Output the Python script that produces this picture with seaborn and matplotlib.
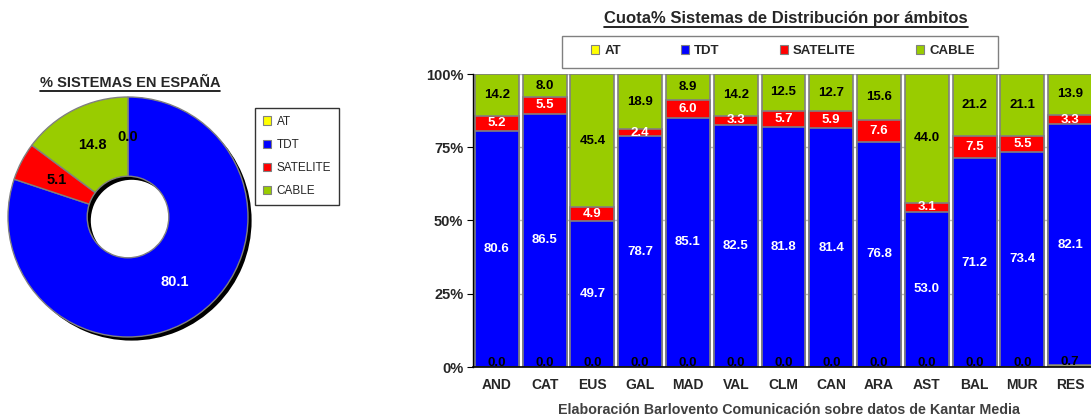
import numpy as np
import pandas as pd
import matplotlib
matplotlib.use("Agg")
import matplotlib.pyplot as plt
from matplotlib import font_manager
from matplotlib.lines import Line2D
from matplotlib.patches import Patch, Rectangle
import seaborn as sns

# Data
sistemas = ["AT", "TDT", "SATELITE", "CABLE"]
espana = [0.0, 80.1, 5.1, 14.8]

ambitos = ["AND", "CAT", "EUS", "GAL", "MAD", "VAL", "CLM", "CAN", "ARA", "AST", "BAL", "MUR", "RES"]
at_vals = [0.0, 0.0, 0.0, 0.0, 0.0, 0.0, 0.0, 0.0, 0.0, 0.0, 0.0, 0.0, 0.7]
tdt_vals = [80.6, 86.5, 49.7, 78.7, 85.1, 82.5, 81.8, 81.4, 76.8, 53.0, 71.2, 73.4, 82.1]
sat_vals = [5.2, 5.5, 4.9, 2.4, 6.0, 3.3, 5.7, 5.9, 7.6, 3.1, 7.5, 5.5, 3.3]
cable_vals = [14.2, 8.0, 45.4, 18.9, 8.9, 14.2, 12.5, 12.7, 15.6, 44.0, 21.2, 21.1, 13.9]

colores = ["#FFFF00", "#0000FF", "#FF0000", "#99CC00"]
edge = "#808080"

#Setting styles
sns.set_style("white")
available = set(f.name for f in font_manager.fontManager.ttflist)
narrow = "Liberation Sans Narrow" if "Liberation Sans Narrow" in available else "Liberation Sans"
plt.rcParams["font.family"] = ["Liberation Sans", "DejaVu Sans"]

fig = plt.figure(figsize=(10.91, 4.19), dpi=100)

# ---------- Donut ----------
ax_pie = fig.add_axes([2 / 1091, 76 / 419, 252 / 1091, 252 / 419])
# shadow ring
ax_pie.pie([1], colors=["black"], radius=1.0, center=(0.03, -0.03),
           wedgeprops=dict(width=0.66, linewidth=0))
wedges, texts, autotexts = ax_pie.pie(
    espana, colors=colores, startangle=90, counterclock=False,
    autopct="%.1f", pctdistance=0.67,
    wedgeprops=dict(width=0.66, edgecolor=edge, linewidth=1.0),
    textprops=dict(fontsize=10.5, fontweight="bold", color="black"))
autotexts[1].set_color("white")
ax_pie.set_xlim(-1.05, 1.05)
ax_pie.set_ylim(-1.05, 1.05)
ax_pie.set_aspect("equal")
ax_pie.axis("off")

pie_title = fig.text(130 / 1091, 1 - 83 / 419, "% SISTEMAS EN ESPAÑA", ha="center", va="center",
                     fontsize=10.5, fontweight="bold")

pie_handles = [Patch(facecolor=c, edgecolor=edge, linewidth=0.8) for c in colores]
fig.legend(pie_handles, sistemas, loc="upper left",
           bbox_to_anchor=(255 / 1091, 1 - 108 / 419), fontsize=8.5,
           frameon=True, fancybox=False, edgecolor="black", handlelength=0.7,
           handleheight=0.7, handletextpad=0.5, labelspacing=0.95, borderpad=0.65,
           borderaxespad=0)

# ---------- Stacked bars ----------
ax = fig.add_axes([473 / 1091, 1 - 367 / 419, 621 / 1091, 293 / 419])

df = pd.DataFrame({"ambito": ambitos, "AT": at_vals, "TDT": tdt_vals,
                   "SATELITE": sat_vals, "CABLE": cable_vals})
total = df[sistemas].sum(axis=1)
norm = df[sistemas].div(total, axis=0) * 100
cum = norm.cumsum(axis=1)

# draw from the top layer down so lower layers cover them
for s, c in zip(reversed(sistemas), reversed(colores)):
    sns.barplot(x=df["ambito"], y=cum[s], color=c, saturation=1, width=0.92,
                edgecolor=edge, linewidth=1.2, ax=ax, zorder=2)

label_colors = {"AT": "black", "TDT": "white", "SATELITE": "white", "CABLE": "black"}
for i in range(len(ambitos)):
    for s in sistemas:
        mid = cum.loc[i, s] - norm.loc[i, s] / 2
        dy = 3 if s == "AT" else 0
        ax.annotate(f"{df.loc[i, s]:.1f}", (i, mid), xytext=(0, dy), textcoords="offset points",
                    ha="center", va="center", fontsize=9.5, fontweight="bold",
                    color=label_colors[s], zorder=5, annotation_clip=False)

ax.set_xlim(-0.5, len(ambitos) - 0.5)
ax.set_ylim(0, 100)
ax.set_yticks([0, 25, 50, 75, 100])
ax.set_yticklabels(["0%", "25%", "50%", "75%", "100%"], fontsize=10.5, fontweight="bold")
ax.set_xticks(range(len(ambitos)))
ax.set_xticklabels(ambitos, fontsize=10, fontweight="bold", family=narrow)
ax.set_xticks(np.arange(-0.5, len(ambitos), 1), minor=True)
ax.tick_params(axis="x", which="major", length=0, pad=8)
ax.tick_params(axis="x", which="minor", length=4, width=0.8, color="black", direction="out")
ax.tick_params(axis="y", length=4, width=0.8, color="black", direction="out", left=True, pad=3)
ax.set_xlabel("")
ax.set_ylabel("")
ax.yaxis.grid(True, color="#b8b8b8", linewidth=1)
ax.set_axisbelow(True)
for sp in ["top", "right"]:
    ax.spines[sp].set_visible(False)
ax.spines["left"].set_color("black")
ax.spines["bottom"].set_color("black")
ax.spines["left"].set_linewidth(1)
ax.spines["bottom"].set_linewidth(1.2)

bar_title = fig.text(786 / 1091, 1 - 18 / 419, "Cuota% Sistemas de Distribución por ámbitos",
                     ha="center", va="center", fontsize=12, fontweight="bold", family=narrow)

# legend box of the bar chart
fig.add_artist(Rectangle((562 / 1091, 1 - 68 / 419), 436 / 1091, 32 / 419,
                         transform=fig.transFigure, facecolor="white",
                         edgecolor="#808080", linewidth=1))
bar_handles = [Patch(facecolor=c, edgecolor=edge, linewidth=0.8) for c in colores]
fig.legend(bar_handles, sistemas, loc="center", ncol=4,
           bbox_to_anchor=(783 / 1091, 1 - 51 / 419),
           prop=dict(size=9.5, weight="bold"), frameon=False,
           handlelength=0.6, handleheight=0.6, handletextpad=0.4,
           columnspacing=4.55, borderpad=0, borderaxespad=0)

fig.text(789 / 1091, 1 - 410 / 419,
         "Elaboración Barlovento Comunicación sobre datos de Kantar Media",
         ha="center", va="center", fontsize=10.3, fontweight="bold", color="#404040")

# underline the titles
fig.canvas.draw()
renderer = fig.canvas.get_renderer()
for t in [pie_title, bar_title]:
    bb = t.get_window_extent(renderer).transformed(fig.transFigure.inverted())
    y = bb.y0 - 1.5 / 419
    fig.add_artist(Line2D([bb.x0, bb.x1], [y, y], transform=fig.transFigure,
                          color="black", linewidth=1.2))

plt.savefig("out.png", dpi=100)
